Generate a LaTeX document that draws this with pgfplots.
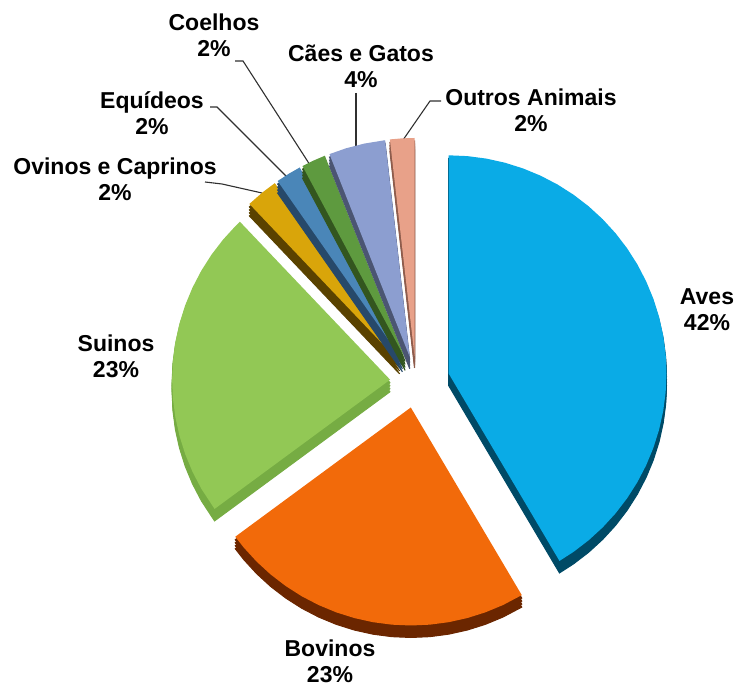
\documentclass[border=0pt]{standalone}
\usepackage{fontspec}
\setmainfont{Liberation Sans}
\usepackage{pgfplots}
\usepackage{pgfplotstable}
\pgfplotsset{compat=1.18}

\definecolor{avesF}{HTML}{0AABE6}\definecolor{avesS}{HTML}{004A66}
\definecolor{bovF}{HTML}{F26A0A}\definecolor{bovS}{HTML}{6B2600}
\definecolor{suiF}{HTML}{92C855}\definecolor{suiS}{HTML}{76AC43}
\definecolor{oviF}{HTML}{D9A50A}\definecolor{oviS}{HTML}{5A4200}
\definecolor{equF}{HTML}{4A86B8}\definecolor{equS}{HTML}{27496A}
\definecolor{coeF}{HTML}{5E9A3F}\definecolor{coeS}{HTML}{33561F}
\definecolor{caeF}{HTML}{8C9ED0}\definecolor{caeS}{HTML}{4B5572}
\definecolor{outF}{HTML}{E8A189}\definecolor{outS}{HTML}{8E5C4C}
\definecolor{leader}{HTML}{303030}

\tikzset{lab/.style={align=center, text=black, inner sep=0pt, font=\bfseries\fontsize{23}{26}\selectfont}}

% Shares (%): Aves 41.5, Bovinos 23.4, Suinos 23.0, Ovinos e Caprinos 2.4,
% Equideos 1.9, Coelhos 1.8, Caes e Gatos 4.2, Outros Animais 1.8
% Each slice: polar coordinates (angle in degrees, radius), clockwise from 90 deg.
\pgfplotstableread[row sep=\\]{a r\\ 0 0\\ 90 218\\ 85 218\\ 80 218\\ 75 218\\ 70 218\\ 65 218\\ 60 218\\ 55 218\\ 50 218\\ 45 218\\ 40 218\\ 35 218\\ 30 218\\ 25 218\\ 20 218\\ 15 218\\ 10 218\\ 5 218\\ 0 218\\ -5 218\\ -10 218\\ -15 218\\ -20 218\\ -25 218\\ -30 218\\ -35 218\\ -40 218\\ -45 218\\ -50 218\\ -55 218\\ -59.4 218\\ 0 0\\}\aves
\pgfplotstableread[row sep=\\]{a r\\ 0 0\\ -59.4 218\\ -65 218\\ -70 218\\ -75 218\\ -80 218\\ -85 218\\ -90 218\\ -95 218\\ -100 218\\ -105 218\\ -110 218\\ -115 218\\ -120 218\\ -125 218\\ -130 218\\ -135 218\\ -140 218\\ -143.64 218\\ 0 0\\}\bovinos
\pgfplotstableread[row sep=\\]{a r\\ 0 0\\ -143.64 218\\ -150 218\\ -155 218\\ -160 218\\ -165 218\\ -170 218\\ -175 218\\ -180 218\\ -185 218\\ -190 218\\ -195 218\\ -200 218\\ -205 218\\ -210 218\\ -215 218\\ -220 218\\ -225 218\\ -226.44 218\\ 0 0\\}\suinos
\pgfplotstableread[row sep=\\]{a r\\ 0 0\\ -226.44 218\\ -231 218\\ -235.08 218\\ 0 0\\}\ovinos
\pgfplotstableread[row sep=\\]{a r\\ 0 0\\ -235.08 218\\ -238.5 218\\ -241.92 218\\ 0 0\\}\equideos
\pgfplotstableread[row sep=\\]{a r\\ 0 0\\ -241.92 218\\ -245.16 218\\ -248.4 218\\ 0 0\\}\coelhos
\pgfplotstableread[row sep=\\]{a r\\ 0 0\\ -248.4 218\\ -253 218\\ -258 218\\ -263.52 218\\ 0 0\\}\caes
\pgfplotstableread[row sep=\\]{a r\\ 0 0\\ -263.52 218\\ -266.76 218\\ -270 218\\ 0 0\\}\outros

% #1 table, #2 face colour, #3 side colour, #4 x offset, #5 y offset (explode)
\newcommand{\slice}[5]{%
  \addplot[draw=#3, fill=#3, line width=1pt, data cs=polar, xshift=#4pt, yshift={(#5-12)*1pt}] table {#1};
  \addplot[draw=#3, fill=#3, line width=1pt, data cs=polar, xshift=#4pt, yshift={(#5-9)*1pt}] table {#1};
  \addplot[draw=#3, fill=#3, line width=1pt, data cs=polar, xshift=#4pt, yshift={(#5-6)*1pt}] table {#1};
  \addplot[draw=#3, fill=#3, line width=1pt, data cs=polar, xshift=#4pt, yshift={(#5-3)*1pt}] table {#1};
  \addplot[draw=none, fill=#2, data cs=polar, xshift=#4pt, yshift=#5pt] table {#1};
}

\begin{document}
\begin{tikzpicture}
\begin{axis}[
  width=736pt, height=688pt, scale only axis, hide axis, clip=false,
  xmin=-416, xmax=320, ymin=-306, ymax=382,
]
\addplot[draw=none] coordinates {(-416,-306) (320,382)};
% leader lines
\addplot[leader, line width=1.1pt] coordinates {(-181,321) (-173,321) (-106,217)};
\addplot[leader, line width=1.1pt] coordinates {(-206,275) (-199,275) (-129,205)};
\addplot[leader, line width=1.1pt] coordinates {(-60,289) (-60,234)};
\addplot[leader, line width=1.1pt] coordinates {(-13,242) (14,281) (25,281)};
\addplot[leader, line width=1.1pt] coordinates {(-211,200) (-194,198) (-154,189)};
% slices
\slice{\ovinos}{oviF}{oviS}{-16.4}{20.1}
\slice{\equideos}{equF}{equS}{-13.6}{22.2}
\slice{\coelhos}{coeF}{coeS}{-10.9}{23.6}
\slice{\caes}{caeF}{caeS}{-6.3}{25.2}
\slice{\outros}{outF}{outS}{-1.5}{26.0}
\slice{\suinos}{suiF}{suiS}{-25.9}{2.3}
\slice{\aves}{avesF}{avesS}{32.5}{8.7}
\slice{\bovinos}{bovF}{bovS}{-5.2}{-25.5}
% labels
\node[lab] at (axis cs:291,72) {Aves\\42\%};
\node[lab] at (axis cs:-300,26) {Suinos\\23\%};
\node[lab] at (axis cs:-86,-279) {Bovinos\\23\%};
\node[lab] at (axis cs:-301,203) {Ovinos e Caprinos\\2\%};
\node[lab] at (axis cs:-264,269) {Equídeos\\2\%};
\node[lab] at (axis cs:-202,347) {Coelhos\\2\%};
\node[lab] at (axis cs:-55,316) {Cães e Gatos\\4\%};
\node[lab] at (axis cs:115,272) {Outros Animais\\2\%};
\end{axis}
\end{tikzpicture}
\end{document}
